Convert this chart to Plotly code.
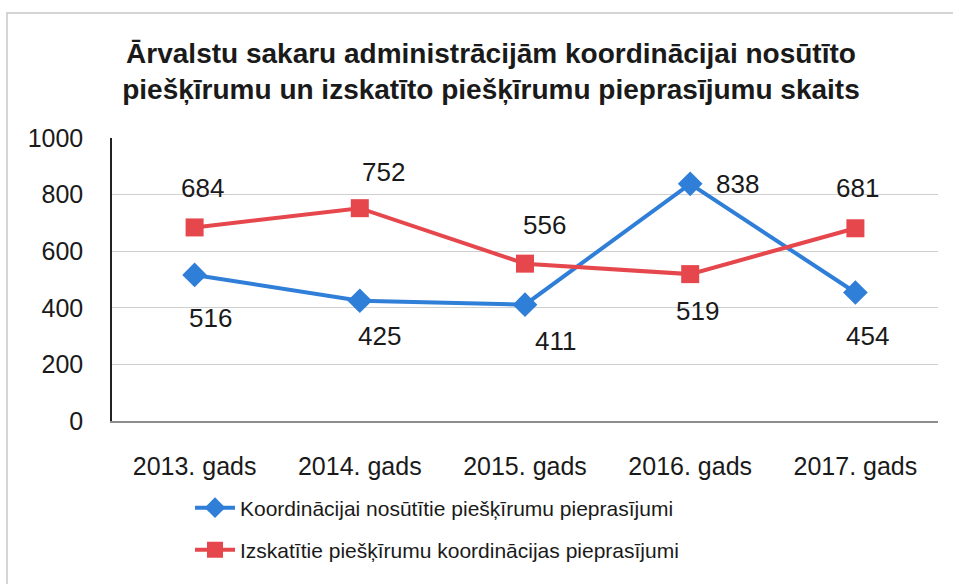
import plotly.graph_objects as go

categories = ["2013. gads", "2014. gads", "2015. gads", "2016. gads", "2017. gads"]
sent = [516, 425, 411, 838, 454]
reviewed = [684, 752, 556, 519, 681]
name_sent = "Koordinācijai nosūtītie piešķīrumu pieprasījumi"
name_reviewed = "Izskatītie piešķīrumu koordinācijas pieprasījumi"
title_text = "Ārvalstu sakaru administrācijām koordinācijai nosūtīto<br>piešķīrumu un izskatīto piešķīrumu pieprasījumu skaits"
y_ticks = [0, 200, 400, 600, 800, 1000]

# label offsets in pixels (style only)
sent_off = [(16, -43), (20, -35), (30, -36), (47, 0), (12, -43)]
rev_off = [(8, 39), (24, 36), (19, 39), (7, -37), (2, 40)]

BLUE = "#2F7ED8"
RED = "#E5474D"

fig = go.Figure()
fig.add_trace(go.Scatter(
    x=categories, y=sent, name=name_sent, mode="lines+markers",
    line=dict(color=BLUE, width=4),
    marker=dict(symbol="diamond", size=19, color=BLUE),
    legend="legend",
))
fig.add_trace(go.Scatter(
    x=categories, y=reviewed, name=name_reviewed, mode="lines+markers",
    line=dict(color=RED, width=4),
    marker=dict(symbol="square", size=18, color=RED),
    legend="legend2",
))

lab_font = dict(family="Liberation Sans, Arial, sans-serif", size=26, color="#1a1a1a")
for c, v, (dx, dy) in zip(categories, sent, sent_off):
    fig.add_annotation(x=c, y=v, text=str(v), showarrow=False, xshift=dx, yshift=dy, font=lab_font)
for c, v, (dx, dy) in zip(categories, reviewed, rev_off):
    fig.add_annotation(x=c, y=v, text=str(v), showarrow=False, xshift=dx, yshift=dy, font=lab_font)

L, R, T, B = 112, 15, 138, 163
W, H = 953, 584
pw, ph = W - L - R, H - T - B

leg_font = dict(family="Liberation Sans, Arial, sans-serif", size=21, color="#1a1a1a")
fig.update_layout(
    width=W, height=H,
    margin=dict(l=L, r=R, t=T, b=B),
    paper_bgcolor="white", plot_bgcolor="white",
    title=dict(
        text=title_text, x=491 / W, xanchor="center",
        y=1 - 63 / H, yanchor="middle",
        font=dict(family="Liberation Sans, Arial, sans-serif", size=28, color="#1a1a1a", weight="bold"),
    ),
    xaxis=dict(
        range=[-0.5, len(categories) - 0.5],
        showgrid=False, showline=True, linecolor="#8c8c8c", linewidth=1.5,
        ticks="", tickfont=dict(family="Liberation Sans, Arial, sans-serif", size=25, color="#1a1a1a"),
        ticklabelstandoff=22,
    ),
    yaxis=dict(
        range=[0, 1000], tickvals=y_ticks, showgrid=True, gridcolor="#cfcfcf", gridwidth=1,
        showline=True, linecolor="#222222", linewidth=1.5, zeroline=False,
        ticks="", tickfont=dict(family="Liberation Sans, Arial, sans-serif", size=25, color="#1a1a1a"),
        ticklabelstandoff=22,
    ),
    legend=dict(x=(190 - L) / pw, y=-(508 - 421) / ph, xanchor="left", yanchor="middle",
                font=leg_font, bgcolor="rgba(0,0,0,0)", itemwidth=40),
    legend2=dict(x=(190 - L) / pw, y=-(550 - 421) / ph, xanchor="left", yanchor="middle",
                 font=leg_font, bgcolor="rgba(0,0,0,0)", itemwidth=40),
    showlegend=True,
)

# light outer frame
fig.add_shape(type="rect", xref="paper", yref="paper",
              x0=(7 - L) / pw, x1=(W + 5 - L) / pw,
              y0=-(H + 5 - T - ph) / ph, y1=1 + (T - 13) / ph,
              line=dict(color="#c8c8c8", width=1.5), layer="below")

fig.write_html(
    "out.html",
    config={"displayModeBar": False},
    post_script="document.body.style.margin='0px';document.body.style.overflow='hidden';",
)
